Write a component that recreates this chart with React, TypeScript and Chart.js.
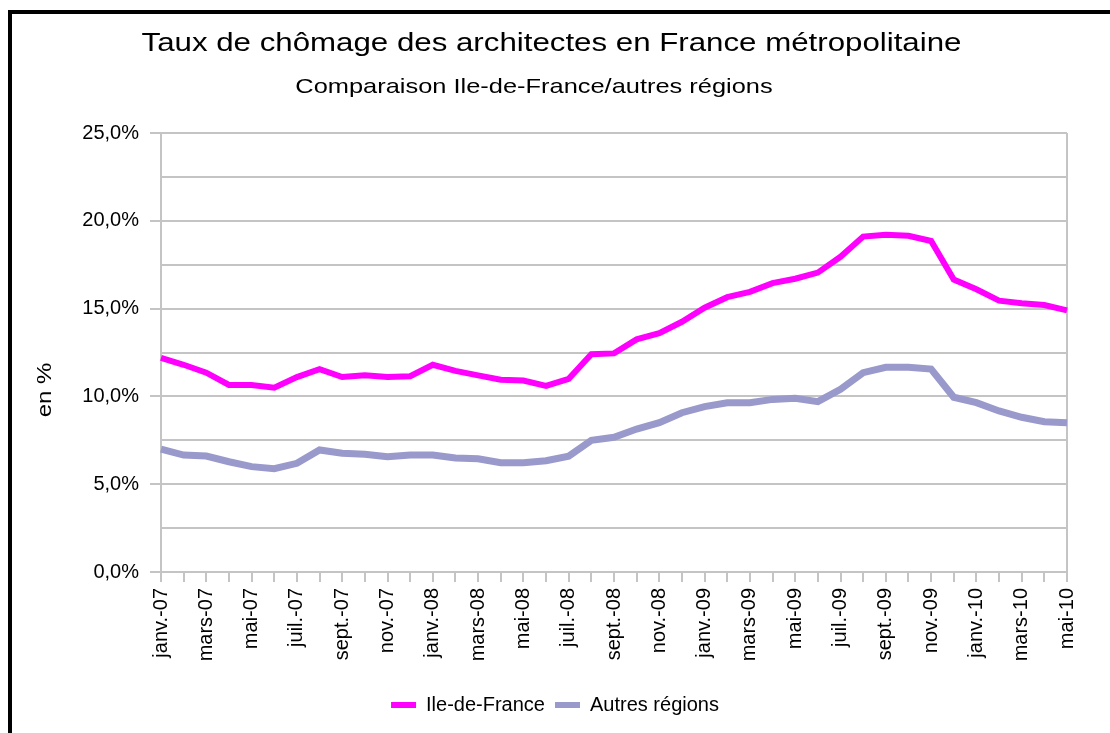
import React, { useEffect, useRef } from "react";
import { Chart, registerables } from "chart.js";

Chart.register(...registerables);

const months: string[] = [
  "janv.-07", "févr.-07", "mars-07", "avr.-07", "mai-07", "juin-07", "juil.-07", "août-07", "sept.-07", "oct.-07", "nov.-07", "déc.-07",
  "janv.-08", "févr.-08", "mars-08", "avr.-08", "mai-08", "juin-08", "juil.-08", "août-08", "sept.-08", "oct.-08", "nov.-08", "déc.-08",
  "janv.-09", "févr.-09", "mars-09", "avr.-09", "mai-09", "juin-09", "juil.-09", "août-09", "sept.-09", "oct.-09", "nov.-09", "déc.-09",
  "janv.-10", "févr.-10", "mars-10", "avr.-10", "mai-10",
];

const ileDeFrance: number[] = [
  12.2, 11.8, 11.35, 10.65, 10.65, 10.5, 11.1, 11.55, 11.1, 11.2, 11.1, 11.15,
  11.8, 11.45, 11.2, 10.95, 10.9, 10.6, 11.0, 12.4, 12.45, 13.25, 13.6, 14.25,
  15.05, 15.65, 15.95, 16.45, 16.7, 17.05, 17.95, 19.1, 19.2, 19.15, 18.85, 16.65,
  16.1, 15.45, 15.3, 15.2, 14.9,
];

const autresRegions: number[] = [
  7.0, 6.66, 6.6, 6.28, 6.0, 5.88, 6.19, 6.95, 6.76, 6.7, 6.57, 6.66,
  6.66, 6.49, 6.45, 6.22, 6.22, 6.34, 6.6, 7.5, 7.67, 8.14, 8.5, 9.07,
  9.42, 9.64, 9.64, 9.83, 9.89, 9.7, 10.4, 11.35, 11.66, 11.66, 11.56, 9.95,
  9.64, 9.17, 8.81, 8.56, 8.5,
];

const seriesNames: string[] = ["Ile-de-France", "Autres régions"];
const seriesColors: string[] = ["#ff00ff", "#9999cc"];

const titleText = "Taux de chômage des architectes en France métropolitaine";
const subtitleText = "Comparaison Ile-de-France/autres régions";
const yAxisTitle = "en %";

const FONT = '"Liberation Sans", Arial, sans-serif';
const GRID = "#c4c4c4";

const isMajor = (v: number) => Math.abs(v / 5 - Math.round(v / 5)) < 1e-6;
const fmtPct = (v: number) => v.toFixed(1).replace(".", ",") + "%";

const decorPlugin = {
  id: "decor",
  beforeDraw(chart: any) {
    const ctx = chart.ctx;
    ctx.save();
    ctx.fillStyle = "#fff";
    ctx.fillRect(0, 0, chart.width, chart.height);
    ctx.fillStyle = "#000";
    ctx.fillRect(8, 10, 4, chart.height);
    ctx.fillRect(8, 10, chart.width, 4);
    ctx.restore();
  },
  afterDraw(chart: any) {
    const ctx = chart.ctx;
    ctx.save();
    ctx.fillStyle = "#000";
    ctx.textAlign = "center";
    ctx.textBaseline = "alphabetic";
    // title
    ctx.save();
    ctx.translate(551.5, 51);
    ctx.scale(1.25, 1);
    ctx.font = `25px ${FONT}`;
    ctx.fillText(titleText, 0, 0);
    ctx.restore();
    // subtitle
    ctx.save();
    ctx.translate(534, 93);
    ctx.scale(1.21, 1);
    ctx.font = `21px ${FONT}`;
    ctx.fillText(subtitleText, 0, 0);
    ctx.restore();
    // y axis title
    ctx.save();
    ctx.translate(45.5, 390);
    ctx.rotate(-Math.PI / 2);
    ctx.scale(1.2, 1);
    ctx.textBaseline = "middle";
    ctx.font = `20px ${FONT}`;
    ctx.fillText(yAxisTitle, 0, 0);
    ctx.restore();
    ctx.restore();
  },
};

export default function App() {
  const canvasRef = useRef<HTMLCanvasElement | null>(null);

  useEffect(() => {
    if (!canvasRef.current) return;
    const lastIndex = months.length - 1;
    const chart = new Chart(canvasRef.current, {
      type: "line",
      data: {
        labels: months,
        datasets: [
          {
            label: seriesNames[0],
            data: ileDeFrance,
            borderColor: seriesColors[0],
            backgroundColor: seriesColors[0],
            borderWidth: 6,
            pointRadius: 0,
            tension: 0,
          },
          {
            label: seriesNames[1],
            data: autresRegions,
            borderColor: seriesColors[1],
            backgroundColor: seriesColors[1],
            borderWidth: 7,
            pointRadius: 0,
            tension: 0,
          },
        ],
      },
      options: {
        responsive: false,
        animation: false,
        layout: { padding: { left: 0, top: 133, right: 0, bottom: 8 } },
        plugins: {
          legend: {
            position: "bottom",
            labels: {
              color: "#000",
              font: { family: FONT, size: 20 },
              boxWidth: 25,
              boxHeight: 6,
              padding: 10,
              generateLabels: (c: any) =>
                Chart.defaults.plugins.legend.labels
                  .generateLabels(c)
                  .map((l: any) => ({ ...l, lineWidth: 0 })),
            },
          },
          tooltip: { enabled: false },
        },
        scales: {
          x: {
            type: "category",
            offset: false,
            afterFit: (s: any) => {
              s.height = 113;
              s.paddingRight = 43;
            },
            border: { display: true, color: GRID, width: 2 },
            grid: {
              display: true,
              drawOnChartArea: true,
              drawTicks: true,
              tickLength: 10,
              lineWidth: 2,
              color: (c: any) => (c.index === lastIndex ? GRID : "rgba(0,0,0,0)"),
              tickColor: GRID,
            },
            ticks: {
              autoSkip: false,
              minRotation: 90,
              maxRotation: 90,
              padding: 6,
              color: "#000",
              font: { family: FONT, size: 20 },
              callback: (_v: any, i: number) => (i % 2 === 0 ? months[i] : ""),
            },
          },
          y: {
            min: 0,
            max: 25,
            afterFit: (s: any) => {
              s.width = 161;
            },
            border: { display: true, color: GRID, width: 2 },
            grid: {
              color: GRID,
              lineWidth: 2,
              tickLength: 11,
              tickColor: (c: any) => (c.tick && isMajor(c.tick.value) ? GRID : "rgba(0,0,0,0)"),
            },
            ticks: {
              stepSize: 2.5,
              padding: 11,
              color: "#000",
              font: { family: FONT, size: 20 },
              callback: (v: any) => (isMajor(Number(v)) ? fmtPct(Number(v)) : ""),
            },
          },
        },
      },
      plugins: [decorPlugin],
    });
    return () => chart.destroy();
  }, []);

  return (
    <div style={{ position: "absolute", left: 0, top: 0, width: 1110, height: 733, background: "#fff" }}>
      <canvas ref={canvasRef} width={1110} height={733} style={{ width: 1110, height: 733, display: "block" }} />
    </div>
  );
}
